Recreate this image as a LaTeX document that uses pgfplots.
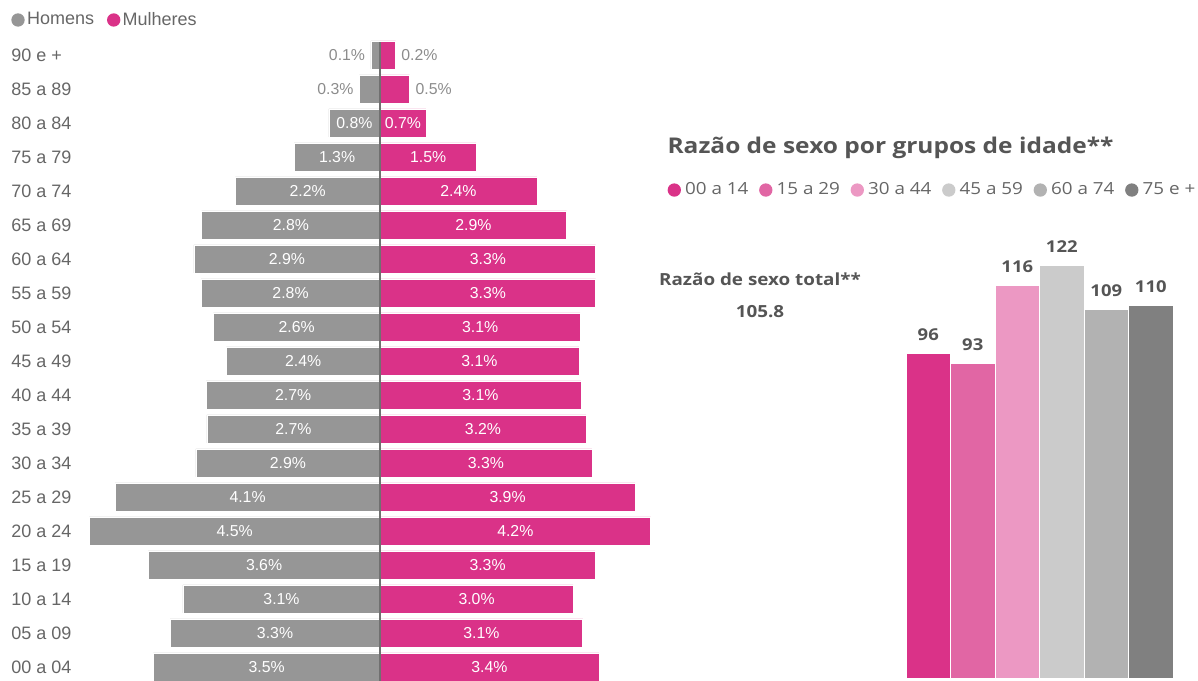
\documentclass[border=0pt]{standalone}
\usepackage{pgfplots}
\pgfplotsset{compat=1.18}
\usepackage{pgfplotstable}
\usepackage{fontspec}
\setmainfont{Liberation Sans}
\newfontfamily\osans[FakeStretch=1.13]{Open Sans}
\definecolor{mgray}{HTML}{969696}
\definecolor{wpink}{HTML}{DA3288}
\definecolor{c1}{HTML}{DA3288}
\definecolor{c2}{HTML}{E166A4}
\definecolor{c3}{HTML}{EC98C3}
\definecolor{c4}{HTML}{CBCBCB}
\definecolor{c5}{HTML}{B2B2B2}
\definecolor{c6}{HTML}{808080}
\definecolor{txt}{HTML}{666666}
\definecolor{ttl}{HTML}{555555}
\definecolor{outl}{HTML}{8C8C8C}
\definecolor{cline}{HTML}{707070}

\pgfplotstableread{
idx m w ml wl
0 3.51 3.39 3.5 3.4
1 3.25 3.14 3.3 3.1
2 3.05 2.99 3.1 3.0
3 3.59 3.33 3.6 3.3
4 4.50 4.19 4.5 4.2
5 4.10 3.95 4.1 3.9
6 2.85 3.28 2.9 3.3
7 2.68 3.19 2.7 3.2
8 2.69 3.11 2.7 3.1
9 2.38 3.08 2.4 3.1
10 2.58 3.10 2.6 3.1
11 2.77 3.34 2.8 3.3
12 2.88 3.34 2.9 3.3
13 2.76 2.89 2.8 2.9
14 2.24 2.43 2.2 2.4
15 1.33 1.49 1.3 1.5
16 0.79 0.71 0.8 0.7
17 0.32 0.46 0.3 0.5
18 0.14 0.24 0.1 0.2
}\pyr

\begin{document}
\begin{tikzpicture}
\path[use as bounding box] (0pt,0pt) rectangle (718.8pt,408.6pt);

\begin{axis}[
  at={(51pt,0pt)}, anchor=south west, scale only axis,
  width=354pt, height=385.8pt,
  xmin=-4.567, xmax=4.567, ymin=-0.412, ymax=18.5,
  clip=false,
  axis line style={draw=none}, xtick=\empty,
  ytick={0,...,18},
  yticklabels={00 a 04,05 a 09,10 a 14,15 a 19,20 a 24,25 a 29,30 a 34,35 a 39,40 a 44,45 a 49,50 a 54,55 a 59,60 a 64,65 a 69,70 a 74,75 a 79,80 a 84,85 a 89,90 e +},
  major tick length=0pt,
  yticklabel style={anchor=west, xshift=-44.4pt, inner sep=0pt, font=\fontsize{10.8}{12}\selectfont, text=txt},
  legend image code/.code={\fill[#1, draw=none] (4pt,0pt) circle (4pt);},
  legend style={at={(axis description cs:-0.1254,1.028)}, anchor=west, draw=none, fill=none, inner sep=0pt,
    font=\fontsize{10.8}{12}\selectfont, text=txt, nodes={inner sep=1.4pt},
    /tikz/every even column/.append style={column sep=6.4pt}},
  legend columns=-1,
]
\addplot[xbar, bar width=16.8pt, bar shift=0pt, fill=mgray, draw=white, line width=0.4pt, forget plot] table[x expr=-\thisrow{m}, y=idx] {\pyr};
\addplot[xbar, bar width=16.8pt, bar shift=0pt, fill=wpink, draw=white, line width=0.4pt, forget plot] table[x=w, y=idx] {\pyr};
\draw[cline, line width=0.7pt] (axis cs:0,-0.412) -- (axis cs:0,18.38);
% inside labels
\addplot[draw=none, mark=none, forget plot, point meta=explicit symbolic,
  nodes near coords={\pgfplotspointmeta\%}, nodes near coords align={center},
  every node near coord/.append style={anchor=center, text=white, font=\fontsize{9.5}{11}\selectfont},
  restrict x to domain=-10:-0.3] table[x expr=-\thisrow{m}/2, y=idx, meta=ml] {\pyr};
\addplot[draw=none, mark=none, forget plot, point meta=explicit symbolic,
  nodes near coords={\pgfplotspointmeta\%}, nodes near coords align={center},
  every node near coord/.append style={anchor=center, text=white, font=\fontsize{9.5}{11}\selectfont},
  restrict x to domain=0.3:10] table[x expr=\thisrow{w}/2, y=idx, meta=wl] {\pyr};
% outside labels
\addplot[draw=none, mark=none, forget plot, point meta=explicit symbolic,
  nodes near coords={\pgfplotspointmeta\%}, nodes near coords align={east},
  every node near coord/.append style={anchor=east, text=outl, font=\fontsize{9.5}{11}\selectfont},
  restrict x to domain=-0.5:0] table[x expr=-\thisrow{m}, y=idx, meta=ml] {\pyr};
\addplot[draw=none, mark=none, forget plot, point meta=explicit symbolic,
  nodes near coords={\pgfplotspointmeta\%}, nodes near coords align={west},
  every node near coord/.append style={anchor=west, text=outl, font=\fontsize{9.5}{11}\selectfont},
  restrict x to domain=0:0.6] table[x=w, y=idx, meta=wl] {\pyr};
\addlegendimage{fill=mgray}\addlegendentry{Homens}
\addlegendimage{fill=wpink}\addlegendentry{Mulheres}
\end{axis}

\node[font=\osans\bfseries\fontsize{10}{12}\selectfont, text=ttl] at (456pt,241.2pt) {Razão de sexo total**};
\node[font=\osans\bfseries\fontsize{10}{12}\selectfont, text=ttl] at (456pt,221.4pt) {105.8};

\begin{axis}[
  at={(543.6pt,1.8pt)}, anchor=south west, scale only axis,
  width=160.2pt, height=264pt,
  xmin=-0.5, xmax=5.5, ymin=0, ymax=130,
  hide axis, clip=false,
  title={Razão de sexo por grupos de idade**},
  title style={at={(axis description cs:-0.058,1.181)}, anchor=center, yshift=0pt, font=\osans\bfseries\fontsize{13}{16}\selectfont, text=ttl},
  nodes near coords={\pgfmathprintnumber[assume math mode=true]{\pgfplotspointmeta}},
  every node near coord/.append style={font=\osans\bfseries\fontsize{9.8}{12}\selectfont, text=ttl, yshift=4pt},
  legend image code/.code={\fill[#1, draw=none] (4pt,0pt) circle (4pt);},
  legend style={at={(axis description cs:-0.894,1.109)}, anchor=west, draw=none, fill=none, inner sep=0pt,
    font=\osans\fontsize{10}{12}\selectfont, text=txt, nodes={inner sep=2.5pt},
    /tikz/every even column/.append style={column sep=3.9pt}},
  legend columns=-1,
]
\addplot[ybar, bar width=26.7pt, bar shift=0pt, fill=c1, draw=white, line width=0.4pt, forget plot] coordinates {(0,96)};
\addplot[ybar, bar width=26.7pt, bar shift=0pt, fill=c2, draw=white, line width=0.4pt, forget plot] coordinates {(1,93)};
\addplot[ybar, bar width=26.7pt, bar shift=0pt, fill=c3, draw=white, line width=0.4pt, forget plot] coordinates {(2,116)};
\addplot[ybar, bar width=26.7pt, bar shift=0pt, fill=c4, draw=white, line width=0.4pt, forget plot] coordinates {(3,122)};
\addplot[ybar, bar width=26.7pt, bar shift=0pt, fill=c5, draw=white, line width=0.4pt, forget plot] coordinates {(4,109)};
\addplot[ybar, bar width=26.7pt, bar shift=0pt, fill=c6, draw=white, line width=0.4pt, forget plot] coordinates {(5,110)};
\addlegendimage{fill=c1}\addlegendentry{00 a 14}
\addlegendimage{fill=c2}\addlegendentry{15 a 29}
\addlegendimage{fill=c3}\addlegendentry{30 a 44}
\addlegendimage{fill=c4}\addlegendentry{45 a 59}
\addlegendimage{fill=c5}\addlegendentry{60 a 74}
\addlegendimage{fill=c6}\addlegendentry{75 e +}
\end{axis}
\end{tikzpicture}
\end{document}
